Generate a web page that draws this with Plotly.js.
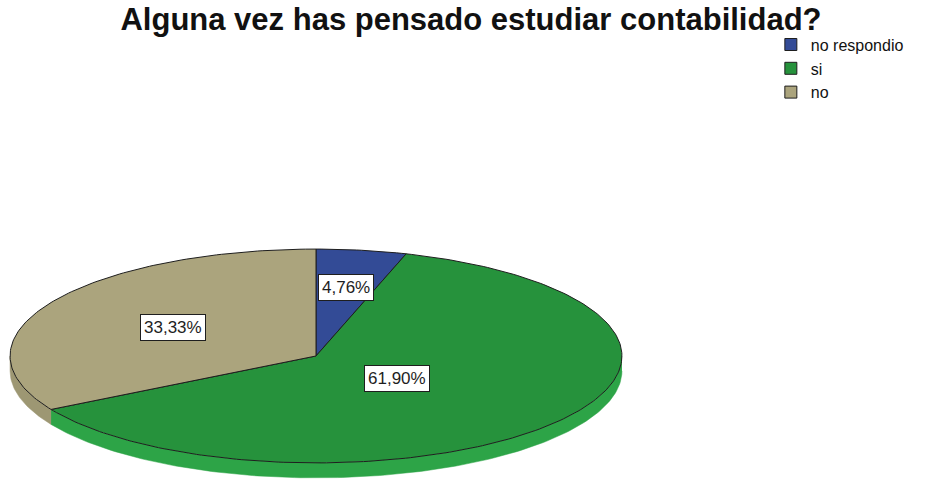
<!DOCTYPE html>
<html>
<head>
<meta charset="utf-8">
<script src="https://cdn.plot.ly/plotly-3.0.1.min.js"></script>
<style>body{margin:0;background:#fff}#plot{width:942px;height:484px}</style>
</head>
<body>
<div id="plot"></div>
<script>
// respuestas (conteos)
var labels = ["no respondio", "si", "no"];
var counts = [1, 13, 7];
var topColors = ["#334b96", "#26923c", "#aba47d"];
var sideColors = ["#2a3f80", "#2da447", "#9d9773"];
var labelRadius = [0.65, 0.34, 0.54];

var thick = 0.14; // grosor del pastel en unidades de radio
var total = counts.reduce(function (a, b) { return a + b; }, 0);

function pt(deg) {
    var r = deg * Math.PI / 180;
    return [Math.sin(r), Math.cos(r)];
}

function arc(a, b) {
    var pts = [];
    var n = Math.max(2, Math.ceil(b - a));
    for (var i = 0; i <= n; i++) pts.push(pt(a + (b - a) * i / n));
    return pts;
}

var sides = [];
var tops = [];
var legendItems = [];
var annotations = [];
var start = 0;

counts.forEach(function (c, i) {
    var ang = c / total * 360;
    var a = start, b = start + ang;

    // cara lateral (solo la mitad frontal)
    var sa = Math.max(a, 90), sb = Math.min(b, 270);
    if (sb > sa) {
        var up = arc(sa, sb);
        var xs = up.map(function (p) { return p[0]; });
        var ys = up.map(function (p) { return p[1]; });
        var down = up.slice().reverse();
        xs = xs.concat(down.map(function (p) { return p[0]; }));
        ys = ys.concat(down.map(function (p) { return p[1] - thick; }));
        sides.push({
            x: xs, y: ys, type: "scatter", mode: "lines", fill: "toself",
            fillcolor: sideColors[i], line: {color: sideColors[i], width: 0.5},
            showlegend: false, hoverinfo: "skip"
        });
    }

    // cara superior
    var p = arc(a, b);
    var tx = [0].concat(p.map(function (q) { return q[0]; })).concat([0]);
    var ty = [0].concat(p.map(function (q) { return q[1]; })).concat([0]);
    tops.push({
        x: tx, y: ty, type: "scatter", mode: "lines", fill: "toself",
        fillcolor: topColors[i], line: {color: "#1e1e1e", width: 1},
        showlegend: false, hoverinfo: "skip"
    });

    // entrada de leyenda (cuadro)
    legendItems.push({
        x: [null], y: [null], type: "bar", name: labels[i],
        marker: {color: topColors[i], line: {color: "#1e1e1e", width: 1}},
        hoverinfo: "skip"
    });

    var mid = pt((a + b) / 2);
    annotations.push({
        x: mid[0] * labelRadius[i], y: mid[1] * labelRadius[i],
        xref: "x", yref: "y", showarrow: false,
        text: (c / total * 100).toFixed(2).replace(".", ",") + "%",
        bgcolor: "#ffffff", bordercolor: "#1e1e1e", borderwidth: 1, borderpad: 3,
        font: {family: "Liberation Sans, Arial", size: 17, color: "#1e1e1e"}
    });

    start = b;
});

var layout = {
    width: 942, height: 484,
    margin: {l: 7, r: 317, t: 248, b: 4},
    paper_bgcolor: "#ffffff", plot_bgcolor: "#ffffff",
    title: {
        text: "<b>Alguna vez has pensado estudiar contabilidad?</b>",
        font: {family: "Liberation Sans, Arial", size: 31, color: "#111"},
        x: 0.5, xref: "container", y: 0.96, yref: "container", yanchor: "middle"
    },
    xaxis: {range: [-1.01, 1.01], visible: false, fixedrange: true},
    yaxis: {range: [-1 - thick - 0.02, 1.01], visible: false, fixedrange: true},
    showlegend: true,
    legend: {
        x: 1.236, y: 1.95, xanchor: "left", yanchor: "top",
        font: {family: "Liberation Sans, Arial", size: 16, color: "#111"},
        bgcolor: "rgba(0,0,0,0)", tracegroupgap: 0
    },
    annotations: annotations
};

Plotly.newPlot("plot", sides.concat(tops).concat(legendItems), layout, {displayModeBar: false, staticPlot: true});
</script>
</body>
</html>
